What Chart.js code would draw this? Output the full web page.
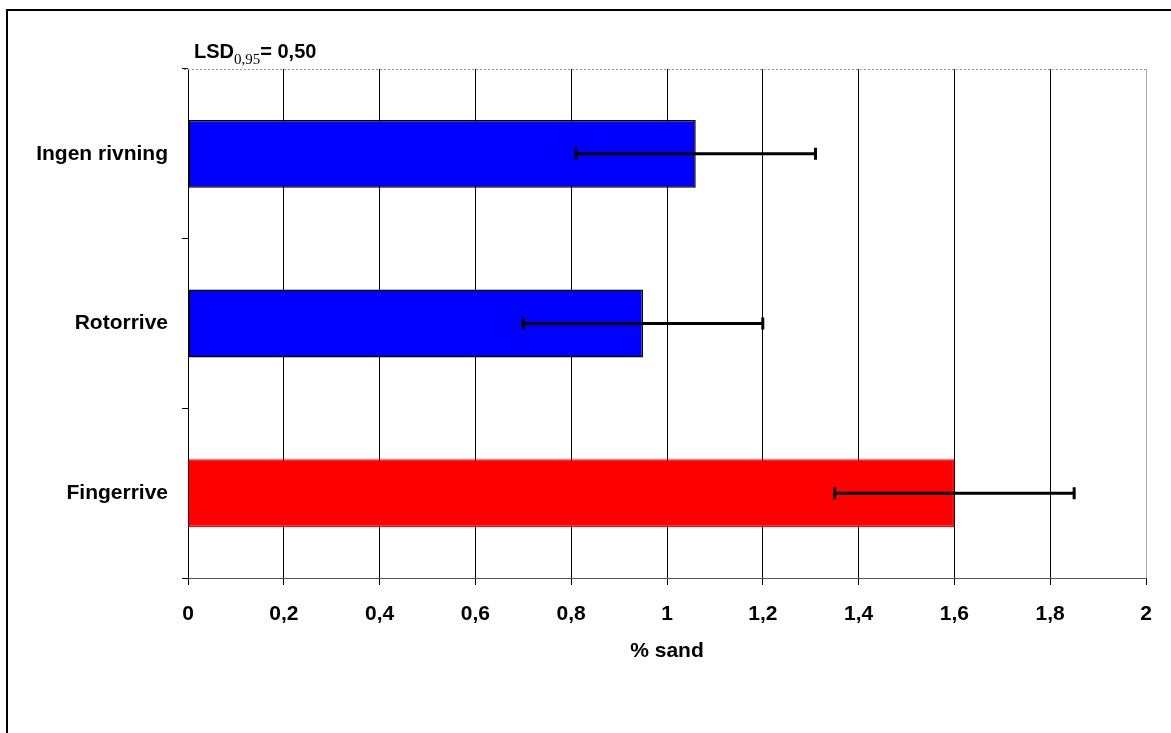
<!DOCTYPE html>
<html>
<head>
<meta charset="utf-8">
<script src="https://cdn.jsdelivr.net/npm/chart.js@4"></script>
<style>
  html, body { margin: 0; padding: 0; background: #fff; }
  #wrap { width: 1171px; height: 733px; position: relative; }
</style>
</head>
<body>
<div id="wrap"><canvas id="sandPlot" width="1171" height="733"></canvas></div>
<script>
// data
const categories = ['Ingen rivning', 'Rotorrive', 'Fingerrive'];
const sandValues = [1.06, 0.95, 1.60];
const errLow = [0.81, 0.70, 1.35];
const errHigh = [1.31, 1.20, 1.85];
const barColors = ['#0000ff', '#0000ff', '#ff0000'];
const barBorders = ['#000000', '#000000', '#ff0000'];
const xTicks = [0, 0.2, 0.4, 0.6, 0.8, 1, 1.2, 1.4, 1.6, 1.8, 2];
const axisTitle = '% sand';
const lsdMain = 'LSD';
const lsdSub = '0,95';
const lsdRest = '= 0,50';

const FONT = '"Liberation Sans", Arial, sans-serif';

// frame, dotted top border, LSD text
const decorPlugin = {
  id: 'decor',
  afterDraw(chart) {
    const ctx = chart.ctx;
    const a = chart.chartArea;
    ctx.save();
    // outer frame (only top + left are visible)
    ctx.strokeStyle = '#000';
    ctx.lineWidth = 2;
    ctx.beginPath();
    ctx.moveTo(7, 740);
    ctx.lineTo(7, 10);
    ctx.lineTo(1175, 10);
    ctx.stroke();
    // dotted top border of plot
    ctx.strokeStyle = '#999';
    ctx.lineWidth = 1;
    ctx.setLineDash([2, 2]);
    ctx.beginPath();
    ctx.moveTo(a.left - 4, a.top + 0.5);
    ctx.lineTo(a.right, a.top + 0.5);
    ctx.stroke();
    ctx.setLineDash([]);
    // LSD label
    ctx.fillStyle = '#000';
    ctx.textBaseline = 'alphabetic';
    ctx.textAlign = 'left';
    let x = 194;
    ctx.font = 'bold 20px ' + FONT;
    ctx.fillText(lsdMain, x, 58);
    x += ctx.measureText(lsdMain).width;
    ctx.font = '15px "Liberation Serif", "Times New Roman", serif';
    ctx.fillText(lsdSub, x, 64);
    x += ctx.measureText(lsdSub).width;
    ctx.font = 'bold 20px ' + FONT;
    ctx.fillText(lsdRest, x, 58);
    ctx.restore();
  }
};

// error bars from errLow / errHigh
const errorBarPlugin = {
  id: 'errorBars',
  afterDatasetsDraw(chart) {
    const ctx = chart.ctx;
    const xs = chart.scales.x;
    const ys = chart.scales.y;
    ctx.save();
    ctx.strokeStyle = '#000';
    ctx.lineWidth = 3;
    categories.forEach((c, i) => {
      const y = ys.getPixelForValue(i);
      const x1 = xs.getPixelForValue(errLow[i]);
      const x2 = xs.getPixelForValue(errHigh[i]);
      ctx.beginPath();
      ctx.moveTo(x1, y);
      ctx.lineTo(x2, y);
      ctx.moveTo(x1, y - 6);
      ctx.lineTo(x1, y + 6);
      ctx.moveTo(x2, y - 6);
      ctx.lineTo(x2, y + 6);
      ctx.stroke();
    });
    ctx.restore();
  }
};

new Chart(document.getElementById('sandPlot'), {
  type: 'bar',
  data: {
    labels: categories,
    datasets: [{
      data: sandValues,
      backgroundColor: barColors,
      borderColor: barBorders,
      borderWidth: 1.5,
      borderSkipped: false,
      barPercentage: 0.4,
      categoryPercentage: 1
    }]
  },
  options: {
    indexAxis: 'y',
    responsive: false,
    animation: false,
    layout: { padding: { left: 0, top: 69, right: 25, bottom: 69 } },
    plugins: {
      legend: { display: false },
      tooltip: { enabled: false }
    },
    scales: {
      x: {
        min: 0,
        max: 2,
        afterFit(scale) { scale.height = 86; },
        afterBuildTicks(scale) { scale.ticks = xTicks.map(v => ({ value: v })); },
        grid: {
          color: ctx => (ctx.tick && ctx.tick.value === 2) ? '#aaaaaa' : '#000000',
          tickColor: '#000',
          tickLength: 7,
          lineWidth: 1
        },
        border: { color: '#555', width: 1 },
        ticks: {
          color: '#000',
          padding: 17,
          maxRotation: 0,
          font: { family: FONT, size: 21, weight: 'bold' },
          callback: v => String(v).replace('.', ',')
        },
        title: {
          display: true,
          text: axisTitle,
          color: '#000',
          padding: 0,
          font: { family: FONT, size: 21, weight: 'bold' }
        }
      },
      y: {
        afterFit(scale) { scale.width = 188; },
        grid: {
          drawOnChartArea: false,
          drawTicks: true,
          tickLength: 6,
          tickColor: '#000',
          offset: true
        },
        border: { color: '#000', width: 1 },
        ticks: {
          color: '#000',
          padding: 14,
          font: { family: FONT, size: 21, weight: 'bold' }
        }
      }
    }
  },
  plugins: [decorPlugin, errorBarPlugin]
});
</script>
</body>
</html>
